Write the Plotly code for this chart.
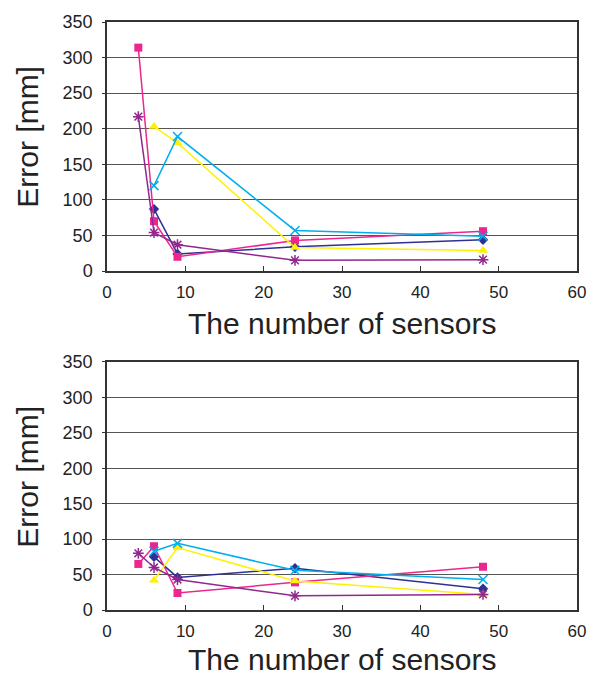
import plotly.graph_objects as go

sensors_blue = [6, 9, 24, 48]
sensors_pink = [4, 6, 9, 24, 48]
sensors_yellow = [6, 9, 24, 48]
sensors_cyan = [6, 9, 24, 48]
sensors_purple = [4, 6, 9, 24, 48]

# Top chart
top_blue = [87, 24, 34, 44]
top_pink = [314, 70, 20, 43, 56]
top_yellow = [203, 180, 33, 29]
top_cyan = [120, 189, 57, 49]
top_purple = [217, 54, 37, 15, 16]

# Bottom chart
bot_blue = [75, 46, 59, 30]
bot_pink = [65, 90, 24, 39, 61]
bot_yellow = [42, 88, 41, 22]
bot_cyan = [83, 94, 56, 43]
bot_purple = [80, 60, 43, 20, 22]

y_ticks = [0, 50, 100, 150, 200, 250, 300, 350]
x_ticks = [0, 10, 20, 30, 40, 50, 60]

colors = {
    "blue": "#2E3192",
    "pink": "#EC268F",
    "yellow": "#FFF200",
    "cyan": "#00AEEF",
    "purple": "#92278F",
}
symbols = {
    "blue": "diamond",
    "pink": "square",
    "yellow": "triangle-up",
    "cyan": "x-thin",
    "purple": "asterisk",
}

series_top = [("blue", sensors_blue, top_blue), ("pink", sensors_pink, top_pink),
              ("yellow", sensors_yellow, top_yellow), ("cyan", sensors_cyan, top_cyan),
              ("purple", sensors_purple, top_purple)]
series_bot = [("blue", sensors_blue, bot_blue), ("pink", sensors_pink, bot_pink),
              ("yellow", sensors_yellow, bot_yellow), ("cyan", sensors_cyan, bot_cyan),
              ("purple", sensors_purple, bot_purple)]

fig = go.Figure()

def add_series(series, xa, ya):
    for name, xs, ys in series:
        sym = symbols[name]
        mk = dict(symbol=sym, size=8 if sym in ("square", "diamond") else 9,
                  color=colors[name])
        if sym in ("x-thin", "asterisk"):
            mk["line"] = dict(color=colors[name], width=1.5)
        fig.add_trace(go.Scatter(x=xs, y=ys, mode="lines+markers", xaxis=xa, yaxis=ya,
                                 line=dict(color=colors[name], width=1.5),
                                 marker=mk, showlegend=False))

add_series(series_top, "x", "y")
add_series(series_bot, "x2", "y2")

FONT = "Liberation Sans, Arial, sans-serif"

ax_common = dict(range=[0, 60], tickvals=x_ticks, ticks="inside", ticklen=5,
                 tickcolor="#333", showgrid=False, zeroline=False,
                 showline=True, linecolor="#333", linewidth=1.5, mirror=True,
                 ticklabelstandoff=5,
                 tickfont=dict(family=FONT, size=17, color="#222"))
ay_common = dict(range=[0, 350], tickvals=y_ticks, ticks="outside", ticklen=3,
                 tickcolor="#333", showgrid=True, gridcolor="#555", gridwidth=1.2,
                 zeroline=False, showline=True, linecolor="#333", linewidth=1.5,
                 mirror=True, ticklabelstandoff=6,
                 tickfont=dict(family=FONT, size=18, color="#222"))

fig.update_layout(
    width=598, height=679,
    margin=dict(l=107, r=15, t=15, b=69),
    paper_bgcolor="white", plot_bgcolor="white",
    xaxis=dict(domain=[0, 1], anchor="y", **ax_common),
    yaxis=dict(domain=[0.5765, 1], anchor="x", **ay_common),
    xaxis2=dict(domain=[0, 1], anchor="y2", **ax_common),
    yaxis2=dict(domain=[0, 0.4218], anchor="x2", **ay_common),
)

title_font = dict(family=FONT, size=30, color="#222")
annotations = [
    dict(text="The number of sensors", xref="paper", yref="paper", x=0.5, y=(610 - 320) / 595,
         showarrow=False, font=title_font, xanchor="center", yanchor="middle"),
    dict(text="The number of sensors", xref="paper", yref="paper", x=0.5, y=(610 - 660) / 595,
         showarrow=False, font=title_font, xanchor="center", yanchor="middle"),
    dict(text="Error [mm]", xref="paper", yref="paper", x=(27 - 107) / 476.3, y=(610 - 131) / 595,
         showarrow=False, font=title_font, textangle=-90, xanchor="center", yanchor="middle"),
    dict(text="Error [mm]", xref="paper", yref="paper", x=(27 - 107) / 476.3, y=(610 - 475) / 595,
         showarrow=False, font=title_font, textangle=-90, xanchor="center", yanchor="middle"),
]
fig.update_layout(annotations=annotations)

fig.write_html("out.html")
